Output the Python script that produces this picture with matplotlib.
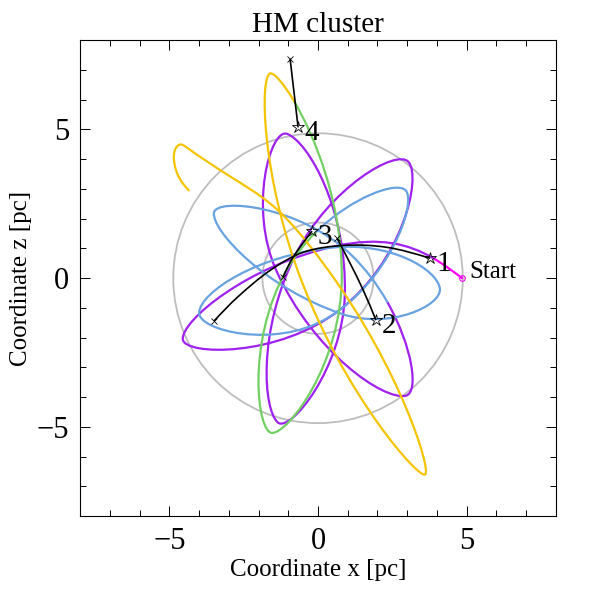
import numpy as np
import matplotlib
matplotlib.use("Agg")
from matplotlib import pyplot as plt
from matplotlib.path import Path
from matplotlib.patches import PathPatch, Circle

plt.rcParams["font.family"] = ["Liberation Serif", "DejaVu Serif"]

# Cluster orbit (pc): start, then the turning points
# (far tips and closest side points) in the order they are passed
orbit_x = [4.85, 0.6, -4.55, 0.75, 3.05, -0.75, -1.35, 0.9, -1.04, -1.4,
           2.95, 1.1, -3.5, 0.8, 4.1, 0.5, -4.0, 0.3, 2.95, -1.1,
           -1.55, 0.8, -1.6, -0.55, 3.6, 0.32, -4.5, -4.85, -4.35]
orbit_y = [0.0, 1.08, -2.05, -1.05, 3.9, 0.8, -4.85, -0.6, 4.85, 0.25,
           -3.95, 0.8, 2.2, -1.2, -0.35, 1.03, -1.15, -1.35, 2.95, 0.2,
           -5.2, 0.1, 6.88, -0.1, -6.6, 0.3, 4.45, 4.0, 2.95]

# points where the orbit colour changes, and the turning-point interval
# each one lies in
break_x = [3.87, 2.15, -0.17, -0.77]
break_y = [0.72, -0.9, 1.61, 5.97]
break_leg = [0, 10, 18, 21]
piece_colors = ["#ff00ff", "#a020f0", "#68a2e0", "#72d062", "#f5c400"]

# links from each star to its cross
link1_x = [3.77, 2.3, 0.85, -0.5, -1.6, -2.7, -3.5]
link1_y = [0.67, 1.04, 1.1, 0.87, 0.27, -0.63, -1.44]
link2_x = [1.95, 1.52, 1.08, 0.64]
link2_y = [-1.41, -0.4, 0.5, 1.34]
link3_x = [-0.2, -0.84, -1.18]
link3_y = [1.58, 0.7, 0.03]
link4_x = [-0.67, -0.94]
link4_y = [5.07, 7.38]

star_x = [3.77, 1.95, -0.2, -0.67]
star_y = [0.67, -1.41, 1.58, 5.07]
cross_x = [-3.5, 0.64, -1.18, -0.94]
cross_y = [-1.44, 1.34, 0.03, 7.38]
star_names = ["1", "2", "3", "4"]

circle_radii = [4.87, 1.87]


def bezier_segments(xs, ys, k):
    # chord-length Catmull-Rom through the points, as cubic Bezier pieces
    p = np.column_stack([xs, ys]).astype(float)
    n = len(p)
    d = np.hypot(*np.diff(p, axis=0).T)
    tang = np.zeros_like(p)
    for i in range(1, n - 1):
        tang[i] = (p[i + 1] - p[i - 1]) / (d[i - 1] + d[i])
    segs = []
    for i in range(n - 1):
        c1 = p[i] + tang[i] * d[i] / 3 * k
        c2 = p[i + 1] - tang[i + 1] * d[i] / 3 * k
        segs.append(np.array([p[i], c1, c2, p[i + 1]]))
    # natural ends
    segs[0][1] = (segs[0][0] + segs[0][2]) / 2
    segs[-1][2] = (segs[-1][3] + segs[-1][1]) / 2
    return segs


def split(c, t):
    a = c[:-1] + (c[1:] - c[:-1]) * t
    b = a[:-1] + (a[1:] - a[:-1]) * t
    m = b[0] + (b[1] - b[0]) * t
    return np.array([c[0], a[0], b[0], m]), np.array([m, b[1], a[2], c[3]])


def sub(c, t0, t1):
    right = split(c, t0)[1] if t0 > 0 else c
    if t1 >= 1:
        return right
    return split(right, (t1 - t0) / (1 - t0))[0]


def nearest_t(c, x, y):
    ts = np.linspace(0, 1, 801)
    w = np.array([(1 - ts) ** 3, 3 * (1 - ts) ** 2 * ts,
                  3 * (1 - ts) * ts ** 2, ts ** 3])
    pts = w.T @ c
    return ts[np.argmin(np.hypot(pts[:, 0] - x, pts[:, 1] - y))]


def to_path(segs):
    verts = [segs[0][0]]
    codes = [Path.MOVETO]
    for c in segs:
        verts += list(c[1:])
        codes += [Path.CURVE4] * 3
    return Path(verts, codes)


fig = plt.figure(figsize=(5.9, 5.9), dpi=100)
ax = fig.add_axes([0.136, 0.125, 0.806, 0.807])

for r in circle_radii:
    ax.add_patch(Circle((0, 0), r, fill=False, ec="#bdbdbd", lw=1.3))

orbit = bezier_segments(orbit_x, orbit_y, 1.65)
marks = [(0, 0.0)]
for bx, by, leg in zip(break_x, break_y, break_leg):
    marks.append((leg, nearest_t(orbit[leg], bx, by)))
marks.append((len(orbit) - 1, 1.0))
for (i0, t0), (i1, t1), col in zip(marks[:-1], marks[1:], piece_colors):
    if i0 == i1:
        segs = [sub(orbit[i0], t0, t1)]
    else:
        segs = [sub(orbit[i0], t0, 1.0)] + orbit[i0 + 1:i1] + [sub(orbit[i1], 0.0, t1)]
    ax.add_patch(PathPatch(to_path(segs), fill=False, ec=col, lw=1.6,
                           capstyle="round", joinstyle="round"))

for xs, ys in [(link1_x, link1_y), (link2_x, link2_y),
               (link3_x, link3_y), (link4_x, link4_y)]:
    ax.add_patch(PathPatch(to_path(bezier_segments(xs, ys, 1.0)),
                           fill=False, ec="black", lw=1.2))

ax.plot(star_x, star_y, ls="none", marker="*", ms=9, mfc="none",
        mec="black", mew=0.6)
ax.plot(cross_x, cross_y, ls="none", marker="x", ms=5, mec="black", mew=0.6)
ax.plot([orbit_x[0]], [orbit_y[0]], ls="none", marker="o", ms=4,
        mfc="none", mec="#ff00ff", mew=0.8)

for sx, sy, s in zip(star_x, star_y, star_names):
    ax.text(sx + 0.2, sy - 0.2, s, fontsize=21, va="center", ha="left")
ax.text(orbit_x[0] + 0.25, orbit_y[0] + 0.2, "Start", fontsize=18,
        va="center", ha="left")

ax.set_xlim(-8, 8)
ax.set_ylim(-8, 8)
ax.set_xticks([-5, 0, 5])
ax.set_yticks([-5, 0, 5])
ax.set_xticks(np.arange(-7, 8), minor=True)
ax.set_yticks(np.arange(-7, 8), minor=True)
ax.tick_params(which="both", direction="in", top=True, right=True,
               labelsize=22, width=0.7, pad=8)
ax.tick_params(which="major", length=7)
ax.tick_params(which="minor", length=4)
for s in ax.spines.values():
    s.set_linewidth(0.8)

ax.set_title("HM cluster", fontsize=21, pad=6)
ax.set_xlabel("Coordinate x [pc]", fontsize=18, labelpad=2)
ax.set_ylabel("Coordinate z [pc]", fontsize=18, labelpad=3)

fig.savefig("out.png", dpi=100)
